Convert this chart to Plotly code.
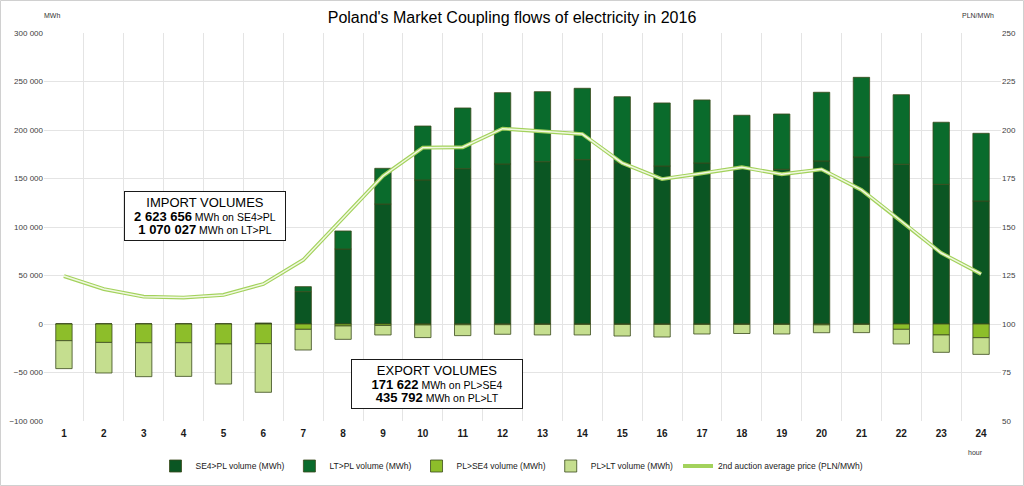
import plotly.graph_objects as go

hours = list(range(1, 25))
hour_labels = [str(h) for h in hours]

se4_pl = [0, 0, 0, 0, 0, 700, 33300, 77300, 123700, 148500, 160100, 165000,
          167300, 169400, 166000, 162900, 166000, 160500, 159500, 168100, 172200,
          164700, 144000, 126800]
lt_pl = [0, 0, 0, 0, 0, 0, 5200, 18600, 36800, 55600, 62600, 73500,
         72200, 73600, 68300, 65000, 65000, 54700, 57000, 70800, 82100,
         71700, 64000, 69800]
pl_se4 = [17200, 19000, 19300, 19300, 20600, 20300, 5500, 2000, 1500, 1000, 800, 700,
          500, 500, 500, 500, 500, 500, 500, 900, 500, 5500, 11300, 14100]
pl_lt = [28800, 31500, 35000, 34700, 41300, 50100, 21300, 13800, 9800, 13000, 11200, 9900,
         10800, 10800, 11900, 12900, 9800, 9300, 9800, 8100, 8400, 15100, 17900, 17200]
price = [124.7, 118.0, 114.1, 113.6, 115.0, 120.6, 133.0, 154.6, 176.3, 190.9, 191.1, 200.7,
         199.3, 197.9, 183.0, 174.7, 177.7, 180.8, 177.2, 179.7, 169.1, 153.1, 136.6, 125.8]

c_se4 = "#0b5623"
c_lt = "#0a6b2c"
c_plse4 = "#8dbe2a"
c_pllt = "#c5de8f"
edge = dict(color="#3a4a1c", width=0.8)
font_family = "Liberation Sans, Arial, sans-serif"

fig = go.Figure()
fig.add_trace(go.Bar(x=hours, y=se4_pl, name="SE4>PL volume (MWh)", marker=dict(color=c_se4, line=edge)))
fig.add_trace(go.Bar(x=hours, y=lt_pl, name="LT>PL volume (MWh)", marker=dict(color=c_lt, line=edge)))
fig.add_trace(go.Bar(x=hours, y=[-v for v in pl_se4], name="PL>SE4 volume (MWh)", marker=dict(color=c_plse4, line=edge)))
fig.add_trace(go.Bar(x=hours, y=[-v for v in pl_lt], name="PL>LT volume (MWh)", marker=dict(color=c_pllt, line=edge)))
fig.add_trace(go.Scatter(x=hours, y=price, yaxis="y2", mode="lines",
                         name="2nd auction average price (PLN/MWh)",
                         line=dict(color="#a3d25c", width=3.8)))
fig.add_trace(go.Scatter(x=hours, y=price, yaxis="y2", mode="lines", showlegend=False,
                         hoverinfo="skip", line=dict(color="#f1f8e2", width=1.5)))

grid = "#e4e4e4"
fig.update_layout(
    width=1024, height=486,
    margin=dict(l=44, r=23, t=33, b=65),
    paper_bgcolor="white", plot_bgcolor="white",
    separators=". ",
    barmode="relative", bargap=0.59,
    font=dict(family=font_family, size=8, color="#404040"),
    title=dict(text="Poland's Market Coupling flows of electricity in 2016",
               x=0.5, xanchor="center", y=1 - 17 / 486, yanchor="middle",
               font=dict(family=font_family, size=16, color="#000000")),
    xaxis=dict(range=[0.5, 24.5], tickmode="array", tickvals=hours, ticktext=hour_labels,
               showgrid=False, zeroline=False, showline=False, ticks="", automargin=False,
               ticklabelstandoff=5,
               tickfont=dict(family=font_family, size=10, color="#1a1a1a", weight="bold"),
               minor=dict(tick0=0.5, dtick=1, showgrid=True, gridcolor=grid, gridwidth=1, ticks="")),
    yaxis=dict(range=[-100000, 300000], dtick=50000, tickformat=",d", showgrid=True,
               gridcolor=grid, zeroline=False, showline=False, ticks="", automargin=False,
               tickfont=dict(size=8, color="#404040")),
    yaxis2=dict(range=[50, 250], dtick=25, overlaying="y", side="right", showgrid=False,
                zeroline=False, showline=False, ticks="", automargin=False,
                tickfont=dict(size=8, color="#404040")),
    legend=dict(orientation="h", x=0.5, xanchor="center", xref="container",
                y=1 - 466 / 486, yanchor="middle", yref="container",
                font=dict(size=8.5, color="#1a1a1a"), traceorder="normal",
                itemwidth=30, tracegroupgap=0),
    showlegend=True,
)

fig.add_annotation(xref="paper", yref="paper", x=-0.002, y=1.046, xanchor="left", yanchor="middle",
                   text="MWh", showarrow=False, font=dict(size=7, color="#333333"))
fig.add_annotation(xref="paper", yref="paper", x=0.995, y=1.046, xanchor="right", yanchor="middle",
                   text="PLN/MWh", showarrow=False, font=dict(size=7, color="#333333"))
fig.add_annotation(xref="paper", yref="paper", x=0.973, y=-0.08, xanchor="center", yanchor="middle",
                   text="hour", showarrow=False, font=dict(size=7, color="#333333"))

imp_text = ("<span style='font-size:13px'>IMPORT VOLUMES</span><br>"
            "<b style='font-size:13px'>2 623 656</b> MWh on SE4>PL<br>"
            "<b style='font-size:13px'>1 070 027</b> MWh on LT>PL")
exp_text = ("<span style='font-size:13px'>EXPORT VOLUMES</span><br>"
            "<b style='font-size:13px'>171 622</b> MWh on PL>SE4<br>"
            "<b style='font-size:13px'>435 792</b> MWh on PL>LT")
for txt, px, py, w in [(imp_text, 0.168, 0.528, 154), (exp_text, 0.411, 0.095, 164)]:
    fig.add_annotation(xref="paper", yref="paper", x=px, y=py, xanchor="center", yanchor="middle",
                       text=txt, showarrow=False, align="center",
                       font=dict(family=font_family, size=10.5, color="#000000"),
                       bgcolor="white", bordercolor="#1a1a1a", borderwidth=1, borderpad=3,
                       width=w)

fig.add_shape(type="rect", xref="paper", yref="paper",
              x0=(0.5 - 44) / 957, x1=(1023.5 - 44) / 957,
              y0=(421 - 485.5) / 388, y1=(421 - 0.5) / 388,
              line=dict(color="#d0d0d0", width=1), fillcolor="rgba(0,0,0,0)", layer="below")

fig.write_html("out.html", config={"displayModeBar": False},
               post_script="document.body.style.margin='0px';document.body.style.overflow='hidden';")
